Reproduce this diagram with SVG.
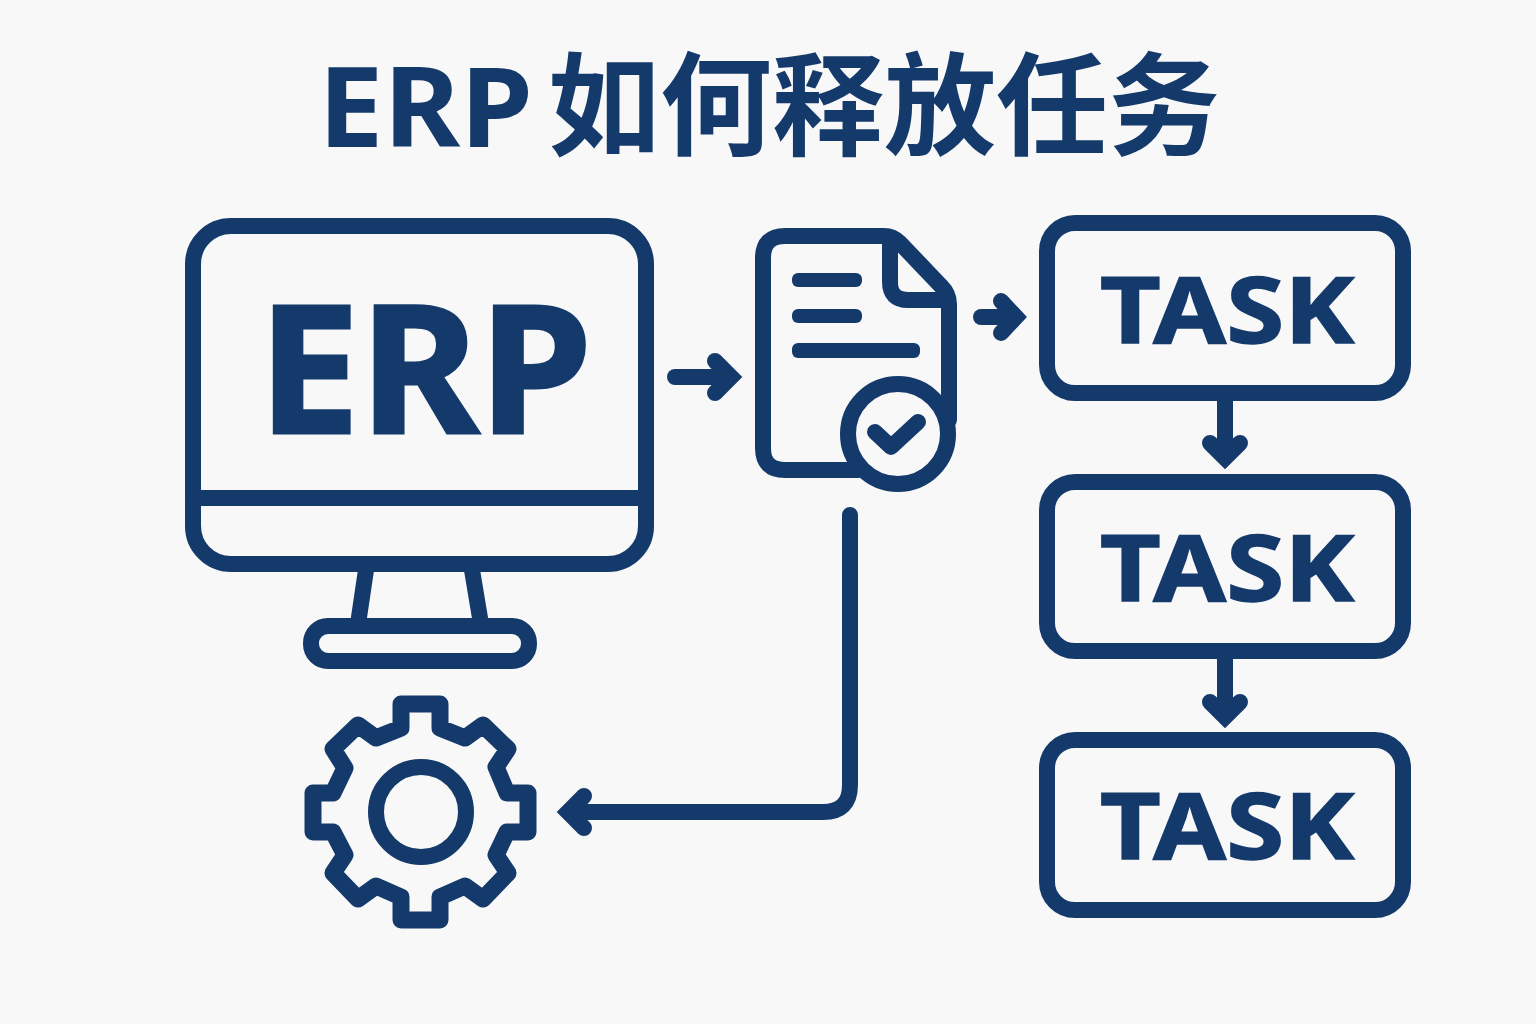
<svg xmlns="http://www.w3.org/2000/svg" width="1536" height="1024" viewBox="0 0 1536 1024">
<style>
.s{fill:none;stroke:#143a6b;stroke-width:16;stroke-linecap:round;stroke-linejoin:round}
.h{fill:none;stroke:#143a6b;stroke-width:16;stroke-linecap:round;stroke-linejoin:miter}
.l{fill:#143a6b}
.t{fill:#143a6b;font-family:"Noto Sans","Noto Sans CJK SC",sans-serif;font-weight:700}
.task{font-size:92px;stroke:#143a6b;stroke-width:1.5}
</style>
<rect width="1536" height="1024" fill="#f8f8f8"/>
<text id="title" class="t" y="147" font-size="112" font-family="Noto Sans CJK SC"><tspan x="318" textLength="215" lengthAdjust="spacingAndGlyphs">ERP</tspan><tspan x="548">如何释放任务</tspan></text>
<g id="erp">
<rect class="s" x="193" y="226" width="453" height="338" rx="38"/>
<path class="s" d="M195 498H644M366 570L358 624M472 570L481 624"/>
<rect class="s" x="311" y="626" width="218" height="35" rx="17"/>
<text class="t" x="258" y="433" font-size="178" stroke="#143a6b" stroke-width="3" textLength="334" lengthAdjust="spacingAndGlyphs">ERP</text>
</g>
<g id="document">
<path class="s" d="M858 470H785Q763 470 763 448V258Q763 236 785 236H884Q893 236 900 243L941 286Q949 294 949 304V420M890 240V282Q890 300 908 300H945"/>
<rect class="l" x="792" y="273" width="70" height="14" rx="6"/>
<rect class="l" x="792" y="309" width="70" height="14" rx="6"/>
<rect class="l" x="792" y="343" width="128" height="15" rx="6"/>
<circle class="s" cx="898" cy="434" r="50" style="fill:#f8f8f8"/>
<path class="s" d="M875 432L891 447L918 422"/>
</g>
<g id="gear">
<path class="s" style="stroke-width:17" d="M401 704H440V728L465 738L483 725L508 749L496 767L507 793H528V832H507L496 855L508 873L483 899L465 886L440 897V920H401V897L376 886L358 899L333 873L345 855L333 832H313V793H333L345 768L333 749L358 725L376 738L401 728Z"/>
<circle class="s" cx="421" cy="812" r="45"/>
</g>
<g id="task1"><rect class="s" x="1047" y="223" width="356" height="170" rx="28"/><text class="t task" x="1100" y="343" textLength="254" lengthAdjust="spacingAndGlyphs">TASK</text></g>
<g id="task2"><rect class="s" x="1047" y="482" width="356" height="169" rx="28"/><text class="t task" x="1100" y="601" textLength="254" lengthAdjust="spacingAndGlyphs">TASK</text></g>
<g id="task3"><rect class="s" x="1047" y="740" width="356" height="170" rx="28"/><text class="t task" x="1100" y="859" textLength="254" lengthAdjust="spacingAndGlyphs">TASK</text></g>
<g id="connectors">
<path class="s" d="M675 377H722"/><path class="h" d="M715 361L731 377L715 393"/>
<path class="s" d="M981 317H1008"/><path class="h" d="M1001 301L1016 317L1001 333"/>
<path class="s" d="M1225 400V450"/><path class="h" d="M1210 443L1225 458L1240 443"/>
<path class="s" d="M1225 658V708"/><path class="h" d="M1210 702L1225 717L1240 702"/>
<path class="s" d="M850 515V785Q850 812 823 812H575"/><path class="h" d="M584 796L568 812L584 828"/>
</g>
</svg>
